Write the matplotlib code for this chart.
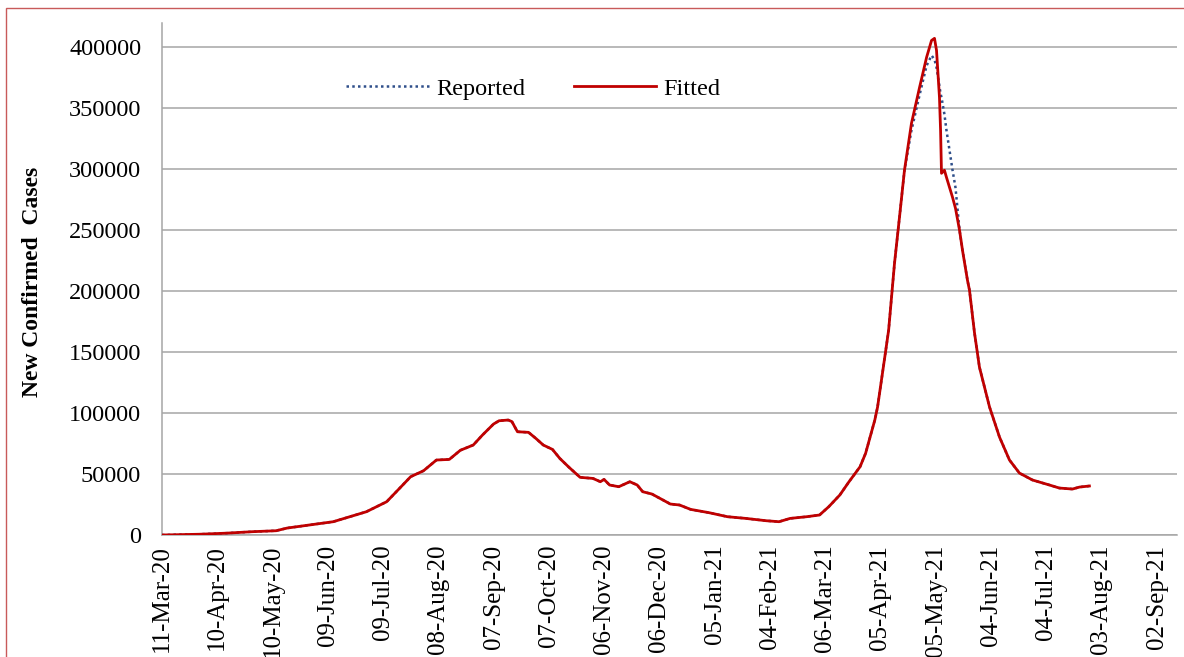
import matplotlib
matplotlib.use('Agg')
import matplotlib.pyplot as plt
from matplotlib.patches import Rectangle

# days counted from 11-Mar-20
days = [0, 20, 35, 49, 62, 68, 80, 93, 102, 111, 122, 129, 135, 142, 149, 156,
        162, 169, 174, 180, 183, 188, 190, 191.5, 193, 199, 203, 207, 212, 216,
        221, 227, 234, 238, 240, 243, 248, 254, 258, 261, 266, 276, 281, 287,
        297, 307, 317, 328, 335, 341, 350, 357, 362, 368, 373, 379, 382, 385,
        387, 388.5, 392.8, 394.5, 397.7, 400.4, 403.1, 406.9, 411.3, 415.1,
        417.8, 419.4, 420.5, 422.1, 422.7, 423.2, 424.8, 425.9, 429.2, 430.8,
        433, 434.6, 437.3, 438.4, 441.1, 443.8, 449.3, 454.7, 460.1, 465.5,
        472.6, 481.8, 487.2, 494.3, 498.1, 503.5]

reported = [0, 600, 1500, 2700, 3500, 5700, 8200, 10900, 15000, 19100, 27300,
            38300, 47800, 52700, 61500, 62000, 69500, 73800, 82000, 91000,
            93700, 94300, 93000, 88800, 84700, 84200, 79200, 73800, 70200,
            62800, 55500, 47300, 46400, 43700, 45600, 41000, 39600, 43700,
            41000, 35500, 33600, 25400, 24600, 21000, 18300, 15000, 13600,
            11700, 10900, 13600, 15000, 16400, 23200, 32800, 43700, 56000,
            67000, 83400, 94300, 105000, 150000, 168000, 223000, 260700,
            299200, 332000, 361000, 385000, 393400, 390000, 383600, 368000,
            362000, 359000, 345000, 332000, 299200, 285000, 250000, 233600,
            209000, 200800, 166000, 137700, 104900, 80300, 61500, 50800,
            45100, 41000, 38500, 37700, 39300, 40200]

fitted = [0, 600, 1500, 2700, 3500, 5700, 8200, 10900, 15000, 19100, 27300,
          38300, 47800, 52700, 61500, 62000, 69500, 73800, 82000, 91000,
          93700, 94300, 93000, 88800, 84700, 84200, 79200, 73800, 70200,
          62800, 55500, 47300, 46400, 43700, 45600, 41000, 39600, 43700,
          41000, 35500, 33600, 25400, 24600, 21000, 18300, 15000, 13600,
          11700, 10900, 13600, 15000, 16400, 23200, 32800, 43700, 56000,
          67000, 83400, 94300, 105000, 150000, 168000, 223000, 260700,
          299200, 337700, 367200, 391800, 405700, 407400, 397500, 359000,
          332000, 296700, 299200, 293400, 277000, 268000, 250000, 233600,
          209000, 200800, 166000, 137700, 104900, 80300, 61500, 50800,
          45100, 41000, 38500, 37700, 39300, 40200]

tick_days = list(range(0, 541, 30))
tick_labels = ['11-Mar-20', '10-Apr-20', '10-May-20', '09-Jun-20', '09-Jul-20',
               '08-Aug-20', '07-Sep-20', '07-Oct-20', '06-Nov-20', '06-Dec-20',
               '05-Jan-21', '04-Feb-21', '06-Mar-21', '05-Apr-21', '05-May-21',
               '04-Jun-21', '04-Jul-21', '03-Aug-21', '02-Sep-21']

plt.rcParams['font.family'] = ['Liberation Serif', 'DejaVu Serif']

fig = plt.figure(figsize=(11.84, 6.57), dpi=100)
ax = fig.add_axes([0.1368, 0.1857, 0.8572, 0.7793])

grid_c = '#a6a6a6'
ax.plot(days, reported, color='#2f4f8a', lw=1.8, ls=(0, (1, 1.3)),
        label='Reported', zorder=3)
ax.plot(days, fitted, color='#c00000', lw=2.0, label='Fitted', zorder=4)

ax.set_xlim(0, 551)
ax.set_ylim(0, 420000)
ax.set_yticks(range(0, 400001, 50000))
ax.set_xticks(tick_days)
ax.set_xticklabels(tick_labels, rotation=90, fontsize=18)
ax.tick_params(axis='y', labelsize=17.5, length=0, pad=15)
ax.tick_params(axis='x', length=0, pad=7)
ax.yaxis.grid(True, color=grid_c, lw=1.1)
ax.set_axisbelow(True)

for s in ['top', 'right']:
    ax.spines[s].set_visible(False)
ax.spines['left'].set_color(grid_c)
ax.spines['bottom'].set_color(grid_c)
ax.spines['left'].set_linewidth(1.1)
ax.spines['bottom'].set_linewidth(1.1)

ax.set_ylabel('New Confirmed  Cases', fontsize=17, fontweight='bold')
ax.yaxis.set_label_coords(-0.117, 0.494)

ax.legend(loc='center left', bbox_to_anchor=(0.16, 0.872), ncol=2, frameon=False,
          fontsize=17.5, handlelength=3.4, columnspacing=2.0, handletextpad=0.3)

fig.patches.append(Rectangle((6 / 1184, -0.1), 1.2, 1 - 8 / 657 + 0.1,
                             transform=fig.transFigure, fill=False,
                             edgecolor='#c85a5a', lw=1.0))

fig.savefig('out.png', dpi=100)
